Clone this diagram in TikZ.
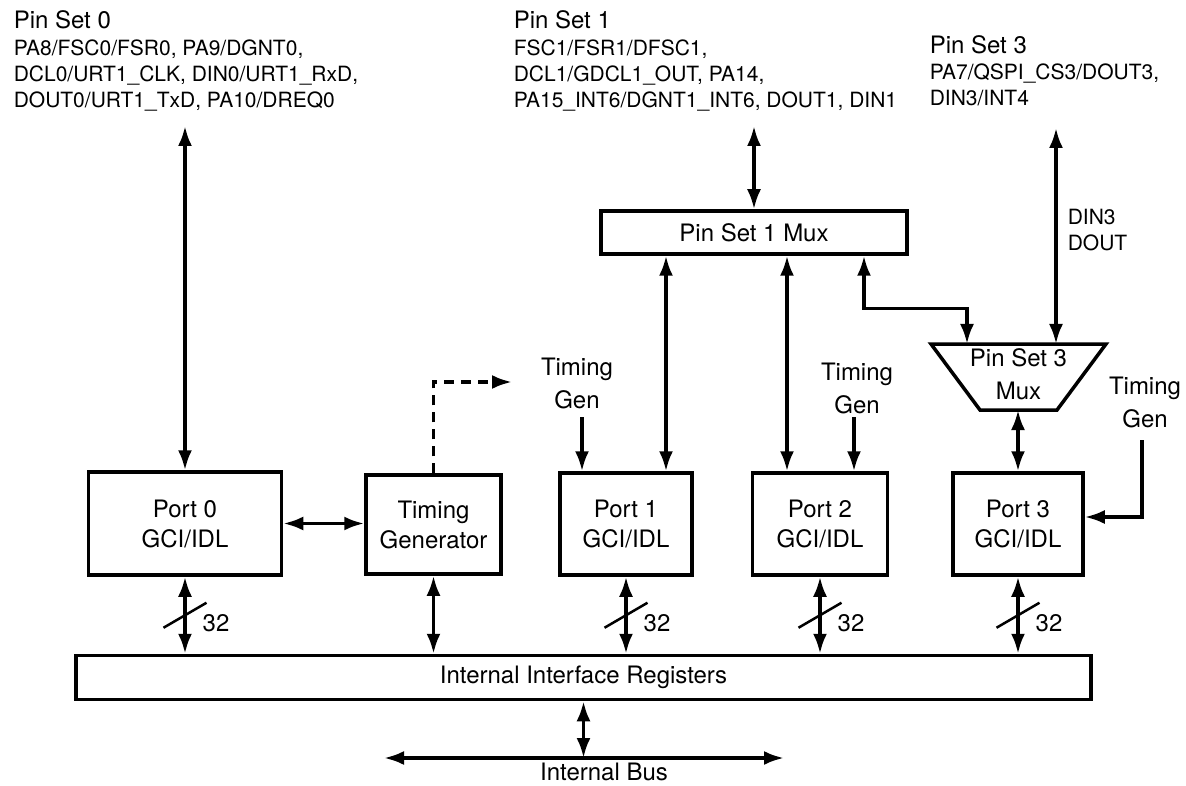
\documentclass[tikz,border=0pt]{standalone}
\usepackage{fontspec}
\setmainfont{TeX Gyre Heros}
\usetikzlibrary{arrows.meta}
\tikzset{
  blk/.style={draw, line width=3.5pt, inner sep=0pt, align=center, font=\fontsize{24}{30}\selectfont},
  lbl/.style={inner sep=0pt, align=center, font=\fontsize{24}{33}\selectfont},
  pins/.style={inner sep=0pt, align=left, anchor=north west, font=\fontsize{21}{26}\selectfont},
  >={Latex[length=20pt,width=14pt]}
}
\begin{document}
\begin{tikzpicture}[x=1pt,y=-1pt,line width=3.5pt]
\useasboundingbox (0,0) rectangle (1186,786);
% pin sets
\path
(12,9) node[lbl,anchor=north west] (ps0) {Pin Set 0}
(12,38) node[pins] (ps0l) {PA8/FSC0/FSR0, PA9/DGNT0,\\DCL0/URT1\_CLK, DIN0/URT1\_RxD,\\DOUT0/URT1\_TxD, PA10/DREQ0}
(512,9) node[lbl,anchor=north west] (ps1) {Pin Set 1}
(512,38) node[pins] (ps1l) {FSC1/FSR1/DFSC1,\\DCL1/GDCL1\_OUT, PA14,\\PA15\_INT6/DGNT1\_INT6, DOUT1, DIN1}
(928,34) node[lbl,anchor=north west] (ps3) {Pin Set 3}
(928,62) node[pins] (ps3l) {PA7/QSPI\_CS3/DOUT3,\\DIN3/INT4}
(1066,207) node[pins] (din3) {DIN3\\DOUT};
% blocks
\path
(185,523.5) node[blk,minimum width=193pt,minimum height=103pt] (port0) {Port 0\\GCI/IDL}
(433.5,524.5) node[blk,minimum width=135pt,minimum height=99pt] (tgen) {Timing\\Generator}
(626,524) node[blk,minimum width=132pt,minimum height=102pt] (port1) {Port 1\\GCI/IDL}
(820,524) node[blk,minimum width=135pt,minimum height=102pt] (port2) {Port 2\\GCI/IDL}
(1018,524) node[blk,minimum width=130pt,minimum height=102pt] (port3) {Port 3\\GCI/IDL}
(754,232.5) node[blk,minimum width=306pt,minimum height=43pt] (mux1) {Pin Set 1 Mux}
(583.5,677.5) node[blk,minimum width=1015pt,minimum height=44pt] (iir) {Internal Interface Registers}
(1018.5,374) node[lbl] (mux3) {Pin Set 3\\Mux}
(577,383) node[lbl] (tg1) {Timing\\Gen}
(857,388) node[lbl] (tg2) {Timing\\Gen}
(1145,402) node[lbl] (tg3) {Timing\\Gen}
(604,772) node[lbl] (ibus) {Internal Bus};
% pin set 3 mux outline
\path
(931,344) coordinate (m3tl)
(1106,344) coordinate (m3tr)
(1057,410) coordinate (m3br)
(980,410) coordinate (m3bl)
(967,344) coordinate (m3a)
(1056,344) coordinate (m3d)
(1018,410) coordinate (m3b);
\draw (m3tl) -- (m3tr) -- (m3br) -- (m3bl) -- cycle;
% free ends
\path
(185,126) coordinate (ps0a)
(754,126) coordinate (ps1a)
(1056,128) coordinate (ps3a)
(582,417) coordinate (t1)
(854,417) coordinate (t2)
(1142,440) coordinate (t3)
(512,382) coordinate (tgd)
(384,758) coordinate (busl)
(784,758) coordinate (busr);
\draw[<->] (ps0a) -- (port0.north);
\draw[<->] (ps1a) -- (mux1.north);
\draw[<->] (ps3a) -- (m3d);
\draw[<->] ([xshift=-88pt]mux1.south) -- ([xshift=40pt]port1.north);
\draw[<->] ([xshift=33pt]mux1.south) -- ([xshift=-33pt]port2.north);
\draw[<->] ([xshift=110pt]mux1.south) -- ++(0,53) -| (m3a);
\draw[<->] (m3b) -- (port3.north);
\draw[->] (t1) -- (t1 |- port1.north);
\draw[->] (t2) -- (t2 |- port2.north);
\draw[->] (t3) |- ([yshift=7pt]port3.east);
\draw[<->] (port0.east) -- (port0.east -| tgen.west);
\draw[->,dash pattern=on 10pt off 7pt] (tgen.north) |- (tgd);
\draw[<->] (tgen.south) -- (tgen.south |- iir.north);
% 32 bit buses
\foreach \p in {port0,port1,port2,port3}{
  \draw[<->] (\p.south) -- (\p.south |- iir.north) coordinate[midway] (m-\p);
  \draw[line width=2.5pt] (m-\p) ++(-21.5,12.5) -- ++(43,-25);
  \path (m-\p) ++(31,8) node[lbl] (n-\p) {32};
}
\draw[<->] (iir.south) -- (iir.south |- busl);
\draw[<->] (busl) -- (busr);
\end{tikzpicture}
\end{document}
